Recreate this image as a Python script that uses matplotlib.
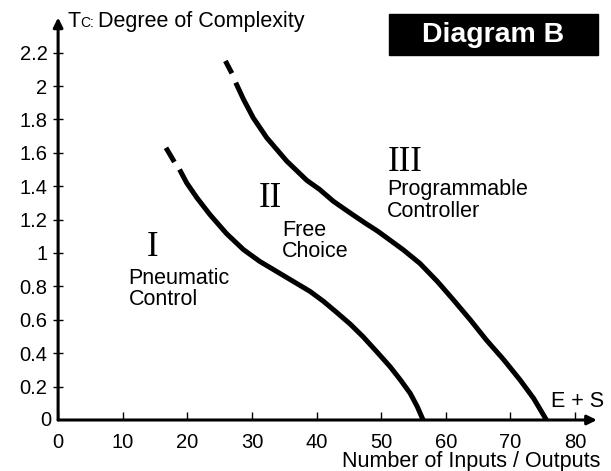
import matplotlib
matplotlib.use("Agg")
import matplotlib.pyplot as plt
from matplotlib.patches import Rectangle

plt.rcParams['font.family'] = ['Liberation Sans', 'DejaVu Sans']

# Courbe I / II (limite commande pneumatique - libre choix)
x_courbe1_tirets = [16.7, 18.0]
y_courbe1_tirets = [1.63, 1.545]
x_courbe1 = [18.8, 19.9, 21.5, 23.5, 26.1, 28.7, 31.2, 33.8, 36.4, 39.0, 41.1, 43.1, 45.2,
             47.2, 49.3, 51.4, 53.0, 54.5, 55.6, 56.5]
y_courbe1 = [1.50, 1.42, 1.33, 1.23, 1.115, 1.02, 0.95, 0.89, 0.83, 0.77, 0.71, 0.645, 0.575,
             0.499, 0.41, 0.319, 0.24, 0.16, 0.08, 0.0]

# Courbe II / III (limite libre choix - automate programmable)
x_courbe2_tirets = [25.9, 26.9]
y_courbe2_tirets = [2.15, 2.076]
x_courbe2 = [27.5, 28.7, 30.2, 32.3, 35.4, 38.5, 40.5, 42.6, 45.2, 47.5, 49.5, 53.4, 56.0,
             58.7, 61.2, 63.8, 66.3, 69.0, 71.5, 73.6, 75.6]
y_courbe2 = [2.02, 1.92, 1.81, 1.69, 1.55, 1.435, 1.38, 1.31, 1.24, 1.18, 1.13, 1.02, 0.938,
             0.83, 0.719, 0.60, 0.479, 0.36, 0.24, 0.13, 0.0]

x_ticks = [0, 10, 20, 30, 40, 50, 60, 70, 80]
y_ticks = [0.2, 0.4, 0.6, 0.8, 1.0, 1.2, 1.4, 1.6, 1.8, 2.0, 2.2]
y_labels = ["0.2", "0.4", "0.6", "0.8", "1", "1.2", "1.4", "1.6", "1.8", "2", "2.2"]

fig = plt.figure(figsize=(6.11, 4.71), dpi=100)
ax = fig.add_axes([58.1 / 611, 51 / 471, 83.6 * 6.46 / 611, 2.42 * 167 / 471])
ax.set_xlim(0, 83.6)
ax.set_ylim(0, 2.42)
for s in ax.spines.values():
    s.set_visible(False)

# axes avec fleches
ax.annotate("", xy=(83.4, 0), xytext=(0, 0),
            arrowprops=dict(arrowstyle='-|>', lw=2.2, color='black', mutation_scale=14,
                            shrinkA=0, shrinkB=0), annotation_clip=False)
ax.annotate("", xy=(0, 2.41), xytext=(0, 0),
            arrowprops=dict(arrowstyle='-|>', lw=2.2, color='black', mutation_scale=14,
                            shrinkA=0, shrinkB=0), annotation_clip=False)

ax.set_xticks(x_ticks)
ax.set_xticklabels([str(v) for v in x_ticks])
ax.set_yticks(y_ticks)
ax.set_yticklabels(y_labels)
ax.tick_params(axis='x', direction='in', length=5.8, width=1, pad=9, labelsize=14.5)
ax.tick_params(axis='y', direction='inout', length=7.2, width=1, pad=4, labelsize=14.5)
ax.text(-1.0, 0, "0", ha='right', va='center', fontsize=14.5)

# courbes
ax.plot(x_courbe1_tirets, y_courbe1_tirets, color='black', lw=3.6, solid_capstyle='butt')
ax.plot(x_courbe1, y_courbe1, color='black', lw=3.6, solid_capstyle='butt', solid_joinstyle='round')
ax.plot(x_courbe2_tirets, y_courbe2_tirets, color='black', lw=3.6, solid_capstyle='butt')
ax.plot(x_courbe2, y_courbe2, color='black', lw=3.6, solid_capstyle='butt', solid_joinstyle='round')

# zones
ax.text(14.7, 1.03, "I", family='Liberation Serif', fontsize=25, ha='center', va='center')
ax.text(10.9, 0.912, "Pneumatic\nControl", fontsize=15.5, ha='left', va='top', linespacing=1.05)
ax.text(32.8, 1.328, "II", family='Liberation Serif', fontsize=25, ha='center', va='center')
ax.text(34.7, 1.20, "Free\nChoice", fontsize=15.5, ha='left', va='top', linespacing=1.05)
ax.text(53.7, 1.543, "III", family='Liberation Serif', fontsize=25, ha='center', va='center')
ax.text(50.96, 1.443, "Programmable\nController", fontsize=15.5, ha='left', va='top', linespacing=1.05)
ax.text(80.4, 0.076, "E + S", fontsize=15.5, ha='center', va='baseline')
ax.text(83.9, -0.28, "Number of Inputs / Outputs", fontsize=15.5, ha='right', va='baseline')

# titre de l'axe y
fig.text(67 / 611, 1 - 27 / 471, "T", fontsize=15.5, ha='left', va='baseline')
fig.text(80 / 611, 1 - 27 / 471, "C:", fontsize=10, ha='left', va='baseline')
fig.text(98 / 611, 1 - 27 / 471, "Degree of Complexity", fontsize=15.5, ha='left', va='baseline')

# cartouche
fig.add_artist(Rectangle((389 / 611, 1 - 55 / 471), 209 / 611, 41 / 471,
                         transform=fig.transFigure, color='black'))
fig.text(493.5 / 611, 1 - 34.5 / 471, "Diagram B", color='white', fontsize=20.5, fontweight='bold',
         ha='center', va='center')

plt.savefig("out.png", dpi=100)
